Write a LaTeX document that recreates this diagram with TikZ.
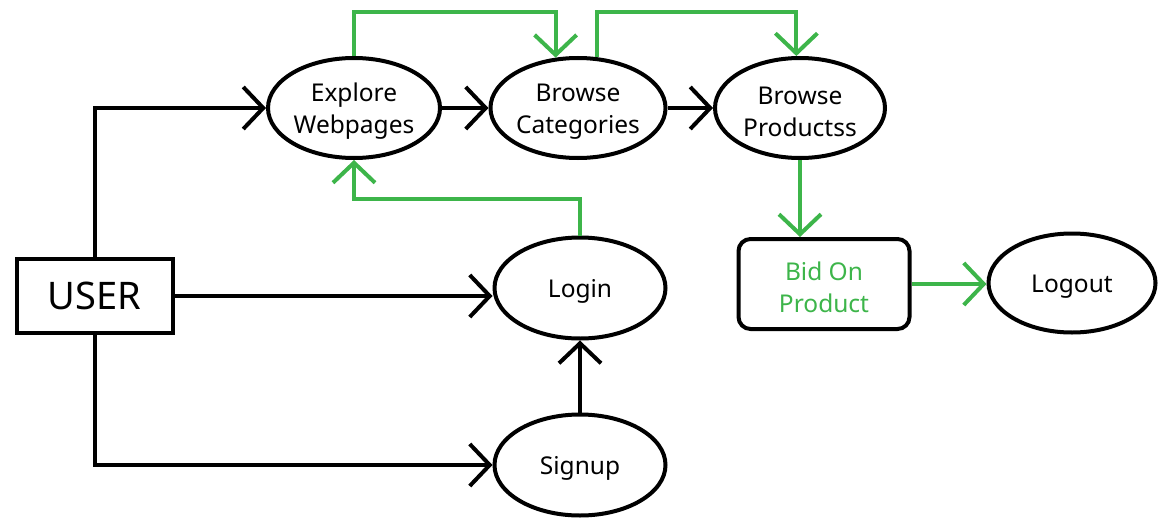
\documentclass[tikz,border=0pt]{standalone}
\usepackage{fontspec}
\setmainfont{Noto Sans}
\usetikzlibrary{arrows.meta,shapes.geometric}
\definecolor{gfg}{RGB}{61,181,74}
\newcommand\dn{\rule{0pt}{25pt}}
\tikzset{
  base/.style={draw=black,line width=4pt,fill=white,inner sep=0pt,align=center,
    font=\fontsize{24.5}{32}\selectfont},
  oval/.style={base,ellipse,minimum width=172pt,minimum height=100pt},
  userbox/.style={base,rectangle,minimum width=156pt,minimum height=74pt,
    font=\fontsize{38}{40}\selectfont},
  bidbox/.style={base,rectangle,rounded corners=12pt,minimum width=171pt,minimum height=90pt,text=gfg},
  tip/.style={-{Straight Barb[length=20pt,width=42pt,line width=4pt]}},
  blk/.style={tip,draw=black,line width=4pt},
  grn/.style={tip,draw=gfg,line width=4pt},
}
\begin{document}
\begin{tikzpicture}[x=1pt,y=-1pt]
\useasboundingbox (0,0) rectangle (1161,519);
\node[userbox] (user) at (94.5,296) {USER};
\node[oval] (explore) at (354,108) {\dn Explore\\Webpages};
\node[oval] (categories) at (578,108) {\dn Browse\\Categories};
\node[oval,minimum width=170pt] (products) at (800,108) {\dn Browse\\Productss};
\node[oval,minimum width=171pt,minimum height=101pt] (login) at (580,288) {\dn Login};
\node[oval,minimum width=171pt,minimum height=101pt] (signup) at (580,465) {\dn Signup};
\node[bidbox] (bid) at (824,284) {\dn Bid On\\Product};
\node[oval,minimum width=167pt,minimum height=99pt] (logout) at (1072,283) {\dn Logout};
% black connectors
\draw[blk] (user.north) |- (explore.west);
\draw[blk] (user.east) -- (user.east -| login.west);
\draw[blk] (user.south) |- (signup.west);
\draw[blk] (signup.north) -- (login.south);
\draw[blk] (explore.east) -- (categories.west);
\draw[blk] (categories.east) -- (products.west);
% green connectors
\draw[grn] (explore.north) -- (explore.north |- 0,12) -| (categories.114);
\draw[grn] (categories.70) -- (categories.70 |- 0,12) -| (products.94);
\draw[grn] (login.north) -- (login.north |- 0,199) -| (explore.south);
\draw[grn] (products.south) -- (products.south |- bid.north);
\draw[grn] (bid.east) -- (bid.east -| logout.west);
\end{tikzpicture}
\end{document}
